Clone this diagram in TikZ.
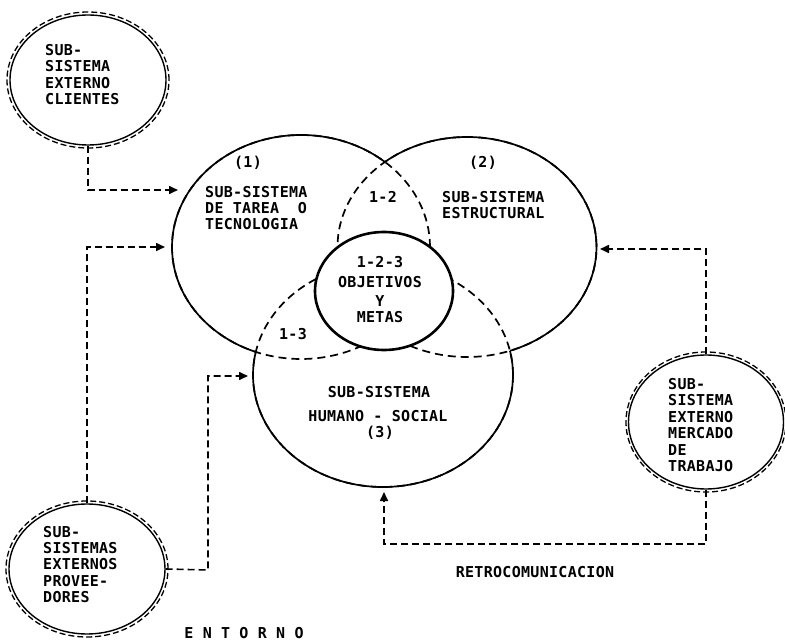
\documentclass[tikz,border=0pt]{standalone}
\usepackage{fontspec}
\newfontfamily\typewr[LetterSpace=2]{DejaVu Sans Mono}
\usetikzlibrary{arrows.meta,shapes.geometric}
\begin{document}
\begin{tikzpicture}[x=1pt,y=-1pt,
  lbl/.style={font=\typewr\bfseries\fontsize{15}{16.4}\selectfont, inner sep=0pt, align=left},
  vline/.style={line width=1.7pt},
  vdash/.style={line width=1.7pt, dash pattern=on 8pt off 5pt},
  conn/.style={line width=1.6pt, dash pattern=on 7pt off 4pt, -{Triangle[length=9pt,width=8pt]}},
  ext/.style={ellipse, draw, line width=1.4pt, inner sep=0pt, minimum width=156pt, minimum height=130pt},
  extring/.style={line width=1.3pt, dash pattern=on 6pt off 3pt},
  r1/.style={x radius=129pt, y radius=112pt},
  r2/.style={x radius=129.5pt, y radius=110pt},
  r3/.style={x radius=130pt, y radius=112pt},
  r4/.style={x radius=69pt, y radius=59pt},
  ringr/.style={x radius=81pt, y radius=68pt}
]
\useasboundingbox (0,0) rectangle (785,644);

% Venn centres
\coordinate (c1) at (301,247);
\coordinate (c2) at (467,247);
\coordinate (c3) at (383,375);
\coordinate (c4) at (384,291);

% dashed (hidden) parts: full dashed ellipses
\draw[vdash] (c1) ellipse [r1];
\draw[vdash] (c2) ellipse [r2];
\draw[vdash] (c3) ellipse [r3];

% solid parts
\begin{scope}[even odd rule]
  \clip (0,0) rectangle (785,644) (c2) ellipse [r2];
  \clip (0,0) rectangle (785,644) (c3) ellipse [r3];
  \draw[vline] (c1) ellipse [r1];
\end{scope}
\begin{scope}[even odd rule]
  \clip (0,0) rectangle (785,644) (c1) ellipse [r1];
  \clip (0,0) rectangle (785,644) (c3) ellipse [r3];
  \draw[vline] (c2) ellipse [r2];
\end{scope}
\begin{scope}[even odd rule]
  \clip (0,0) rectangle (785,644) (c1) ellipse [r1];
  \clip (0,0) rectangle (785,644) (c2) ellipse [r2];
  \draw[vline] (c3) ellipse [r3];
\end{scope}

% central circle
\draw[line width=2.6pt, fill=white] (c4) ellipse [r4];

% Venn labels
\node[lbl, anchor=center] (n1) at (248,163) {(1)};
\node[lbl, anchor=west] (t1) at (205,208) {SUB-SISTEMA\\DE TAREA\ \ O\\TECNOLOGIA};
\node[lbl, anchor=center] (n2) at (483,163) {(2)};
\node[lbl, anchor=west] (t2) at (442,205) {SUB-SISTEMA\\ESTRUCTURAL};
\node[lbl, anchor=center] (n12) at (383,197) {1-2};
\node[lbl, anchor=center] (n123) at (380,262) {1-2-3};
\node[lbl, anchor=center] (obj) at (380,282) {OBJETIVOS};
\node[lbl, anchor=center] (y) at (380,301) {Y};
\node[lbl, anchor=center] (met) at (380,317) {METAS};
\node[lbl, anchor=center] (n13) at (293,334) {1-3};
\node[lbl, anchor=center] (t3a) at (379,392) {SUB-SISTEMA};
\node[lbl, anchor=center] (t3b) at (378,416) {HUMANO - SOCIAL};
\node[lbl, anchor=center] (n3) at (380,433) {(3)};

% external subsystems
\node[ext] (cli) at (88,80) {};
\draw[extring] (cli.center) ellipse [ringr];
\node[lbl, anchor=west] (clit) at (45,74.5) {SUB-\\SISTEMA\\EXTERNO\\CLIENTES};

\node[ext] (pro) at (87,569) {};
\draw[extring] (pro.center) ellipse [ringr];
\node[lbl, anchor=west] (prot) at (43,564.5) {SUB-\\SISTEMAS\\EXTERNOS\\PROVEE-\\DORES};

\node[ext, minimum width=155pt, minimum height=134pt] (mer) at (706,422) {};
\draw[extring] (mer.center) ellipse [x radius=80pt, y radius=70pt];
\node[lbl, anchor=west] (mert) at (668,425) {SUB-\\SISTEMA\\EXTERNO\\MERCADO\\DE\\TRABAJO};

% connectors
\coordinate (a1) at (178,190);
\coordinate (a2) at (165,247);
\coordinate (k3) at (208,570);
\coordinate (a3) at (248,376);
\coordinate (a4) at (600,249);
\coordinate (k5) at (706,544);
\coordinate (a5) at (384,492);
\draw[conn] (cli.south) |- (a1);
\draw[conn] (pro.north) |- (a2);
\draw[conn] (pro.east) -- (k3) |- (a3);
\draw[conn] (mer.north) |- (a4);
\draw[conn] (mer.south) -- (k5) -| (a5);

% labels
\node[lbl, anchor=center] (retro) at (535,572) {RETROCOMUNICACION};
\node[lbl, anchor=center] (ent) at (244,633) {E N T O R N O};
\end{tikzpicture}
\end{document}
